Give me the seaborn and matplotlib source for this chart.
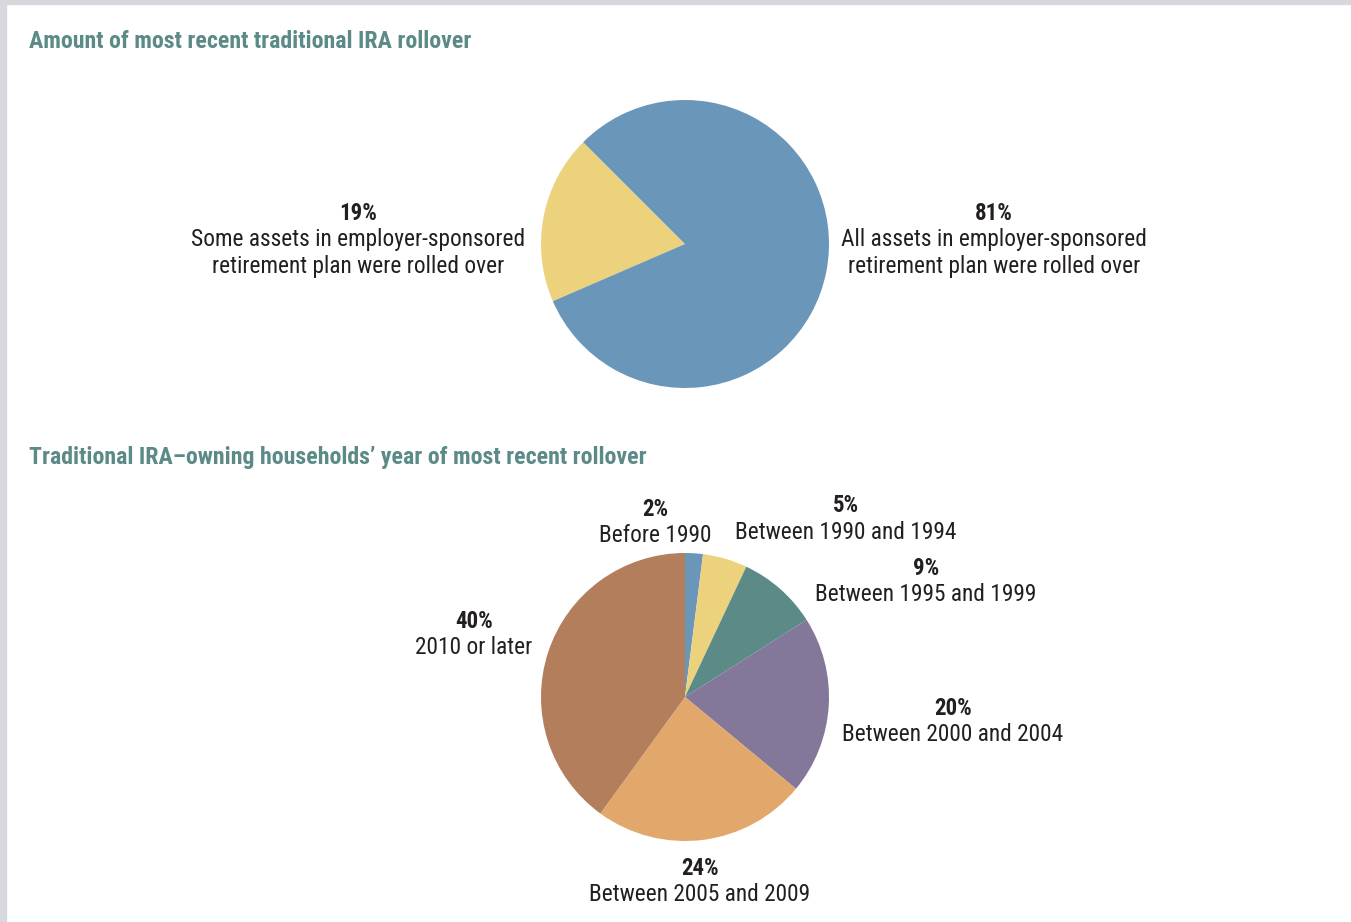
import matplotlib
matplotlib.use("Agg")
import matplotlib.pyplot as plt
import seaborn as sns

# Rollover amount shares (%)
amount_labels = [["Some assets in employer-sponsored", "retirement plan were rolled over"],
                 ["All assets in employer-sponsored", "retirement plan were rolled over"]]
amount_values = [19, 81]

# Year of most recent rollover (%)
year_labels = ["Before 1990", "Between 1990 and 1994", "Between 1995 and 1999",
               "Between 2000 and 2004", "Between 2005 and 2009", "2010 or later"]
year_values = [2, 5, 9, 20, 24, 40]

title_top = "Amount of most recent traditional IRA rollover"
title_bottom = "Traditional IRA\u2013owning households\u2019 year of most recent rollover"

sns.set_theme(style="white")
plt.rcParams["font.family"] = ["Roboto Condensed", "DejaVu Sans"]

amount_colors = sns.color_palette(["#edd27e", "#6a96b9"])
year_colors = sns.color_palette(["#6a96b9", "#edd27e", "#5b8a87",
                                 "#83779a", "#e2a86b", "#b37e5c"])
TEXT = "#231f20"
TITLE = "#5b8a87"

W, H = 1351, 922
fig = plt.figure(figsize=(W / 100, H / 100), dpi=100)
fig.patch.set_facecolor("white")

# light gray frame strips along top and left edges
fig.patches.append(plt.Rectangle((0, 1 - 4 / H), 1, 4 / H, transform=fig.transFigure,
                                 color="#d7d8dd", zorder=0))
fig.patches.append(plt.Rectangle((0, 0), 6 / W, 1, transform=fig.transFigure,
                                 color="#d7d8dd", zorder=0))


def pie_axes(cx, cy, r):
    ax = fig.add_axes([(cx - r) / W, (H - cy - r) / H, 2 * r / W, 2 * r / H])
    ax.set_axis_off()
    return ax


def fx(px):
    return px / W


def fy(py):
    return 1 - py / H


def label(x, y, pct, lines, gap=26.5):
    fig.text(fx(x), fy(y), f"{pct}%", ha="center", va="center", fontsize=16.5,
             fontweight="bold", color=TEXT)
    if isinstance(lines, str):
        lines = [lines]
    for i, line in enumerate(lines):
        fig.text(fx(x), fy(y + gap * (i + 1)), line, ha="center", va="center",
                 fontsize=16.8, color=TEXT)


# --- Top pie ---
ax1 = pie_axes(685, 244, 144)
ax1.pie(amount_values, colors=amount_colors, startangle=135, counterclock=True,
        radius=1, wedgeprops=dict(linewidth=0))
ax1.set_xlim(-1, 1)
ax1.set_ylim(-1, 1)

fig.text(fx(29), fy(42), title_top, ha="left", va="center", fontsize=17.2,
         fontweight="bold", color=TITLE)
label(358, 213, amount_values[0], amount_labels[0])
label(994, 213, amount_values[1], amount_labels[1])

# --- Bottom pie ---
ax2 = pie_axes(685, 697, 144)
ax2.pie(year_values, colors=year_colors, startangle=90, counterclock=False,
        radius=1, wedgeprops=dict(linewidth=0))
ax2.set_xlim(-1, 1)
ax2.set_ylim(-1, 1)

fig.text(fx(29), fy(457), title_bottom, ha="left", va="center", fontsize=17.2,
         fontweight="bold", color=TITLE)

year_pos = [(655, 509), (846, 506), (926, 568), (953, 708), (700, 868), (474, 621)]
for (x, y), pct, txt in zip(year_pos, year_values, year_labels):
    label(x, y, pct, txt)

fig.savefig("out.png", dpi=100, facecolor="white")
